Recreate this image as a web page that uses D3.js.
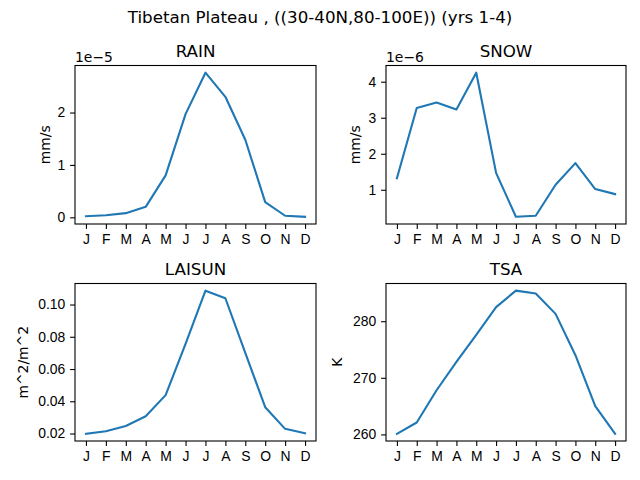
<!DOCTYPE html>
<html>
<head>
<meta charset="utf-8">
<script src="https://cdn.jsdelivr.net/npm/d3@7"></script>
<style>
  body { margin: 0; background: #fff; }
  svg { font-family: "DejaVu Sans", sans-serif; }
</style>
</head>
<body>
<svg id="chart" width="640" height="480"></svg>
<script>
var months = ["J", "F", "M", "A", "M", "J", "J", "A", "S", "O", "N", "D"];

// values
var rain = [0.02e-5, 0.04e-5, 0.08e-5, 0.2e-5, 0.8e-5, 1.97e-5, 2.76e-5, 2.3e-5, 1.48e-5, 0.29e-5, 0.03e-5, 0.01e-5];
var snow = [1.32e-6, 3.27e-6, 3.42e-6, 3.23e-6, 4.25e-6, 1.47e-6, 0.25e-6, 0.28e-6, 1.14e-6, 1.74e-6, 1.02e-6, 0.88e-6];
var laisun = [0.0198, 0.0214, 0.0247, 0.0307, 0.0438, 0.0756, 0.1086, 0.1039, 0.0700, 0.0363, 0.0229, 0.0202];
var tsa = [260.1, 262.1, 267.8, 272.8, 277.6, 282.5, 285.4, 284.9, 281.3, 274.0, 265.0, 260.1];

var rainTicks = [0, 1, 2];
var snowTicks = [1, 2, 3, 4];
var laisunTicks = [0.02, 0.04, 0.06, 0.08, 0.10];
var tsaTicks = [260, 270, 280];

var panels = [
  { title: "RAIN", ylabel: "mm/s", values: rain, scale: 1e-5, offset: "1e\u22125", ticks: rainTicks, fmt: d3.format("d"),
    box: { x: 75, y: 65.5, w: 241, h: 158.5 }, labelX: 45 },
  { title: "SNOW", ylabel: "mm/s", values: snow, scale: 1e-6, offset: "1e\u22126", ticks: snowTicks, fmt: d3.format("d"),
    box: { x: 386, y: 65.5, w: 240, h: 158.5 }, labelX: 355 },
  { title: "LAISUN", ylabel: "m^2/m^2", values: laisun, scale: 1, offset: null, ticks: laisunTicks, fmt: d3.format(".2f"),
    box: { x: 75, y: 283.5, w: 241, h: 157.5 }, labelX: 23 },
  { title: "TSA", ylabel: "K", values: tsa, scale: 1, offset: null, ticks: tsaTicks, fmt: d3.format("d"),
    box: { x: 386, y: 283.5, w: 240, h: 157.5 }, labelX: 337 }
];

var svg = d3.select("#chart");
var blue = "#1f77b4";

svg.append("text")
  .attr("x", 320).attr("y", 23)
  .attr("text-anchor", "middle")
  .style("font-size", "16.7px")
  .text("Tibetan Plateau , ((30-40N,80-100E)) (yrs 1-4)");

panels.forEach(function(p) {
  var b = p.box;
  var vals = p.values.map(function(v) { return v / p.scale; });
  var lo = d3.min(vals), hi = d3.max(vals), pad = (hi - lo) * 0.05;

  var x = d3.scaleLinear().domain([-0.55, 11.55]).range([0, b.w]);
  var y = d3.scaleLinear().domain([lo - pad, hi + pad]).range([b.h, 0]);

  var g = svg.append("g").attr("transform", "translate(" + b.x + "," + b.y + ")");

  var xAxis = d3.axisBottom(x)
    .tickValues(d3.range(12))
    .tickFormat(function(i) { return months[i]; })
    .tickSizeInner(4.9).tickSizeOuter(0).tickPadding(4.9);
  var yAxis = d3.axisLeft(y)
    .tickValues(p.ticks)
    .tickFormat(p.fmt)
    .tickSizeInner(4.9).tickSizeOuter(0).tickPadding(4.9);

  var gx = g.append("g").attr("transform", "translate(0," + b.h + ")").call(xAxis);
  var gy = g.append("g").call(yAxis);
  [gx, gy].forEach(function(a) {
    a.select(".domain").remove();
    a.selectAll("line").attr("stroke", "#000").attr("stroke-width", 1.1);
    a.selectAll("text").attr("fill", "#000").style("font-size", "13.9px");
  });
  gx.selectAll("text").attr("dy", "0.75em");

  g.append("path")
    .datum(vals)
    .attr("fill", "none")
    .attr("stroke", blue)
    .attr("stroke-width", 2.1)
    .attr("stroke-linejoin", "round")
    .attr("stroke-linecap", "square")
    .attr("d", d3.line().x(function(d, i) { return x(i); }).y(function(d) { return y(d); }));

  g.append("rect")
    .attr("width", b.w).attr("height", b.h)
    .attr("fill", "none").attr("stroke", "#000").attr("stroke-width", 1.1);

  g.append("text")
    .attr("x", b.w / 2).attr("y", -8.5)
    .attr("text-anchor", "middle")
    .style("font-size", "16.7px")
    .text(p.title);

  if (p.offset) {
    g.append("text")
      .attr("x", 0).attr("y", -3.5)
      .style("font-size", "13.9px")
      .text(p.offset);
  }

  svg.append("text")
    .attr("transform", "translate(" + p.labelX + "," + (b.y + b.h / 2) + ") rotate(-90)")
    .attr("text-anchor", "middle")
    .attr("dy", "0.35em")
    .style("font-size", "13.9px")
    .text(p.ylabel);
});
</script>
</body>
</html>
